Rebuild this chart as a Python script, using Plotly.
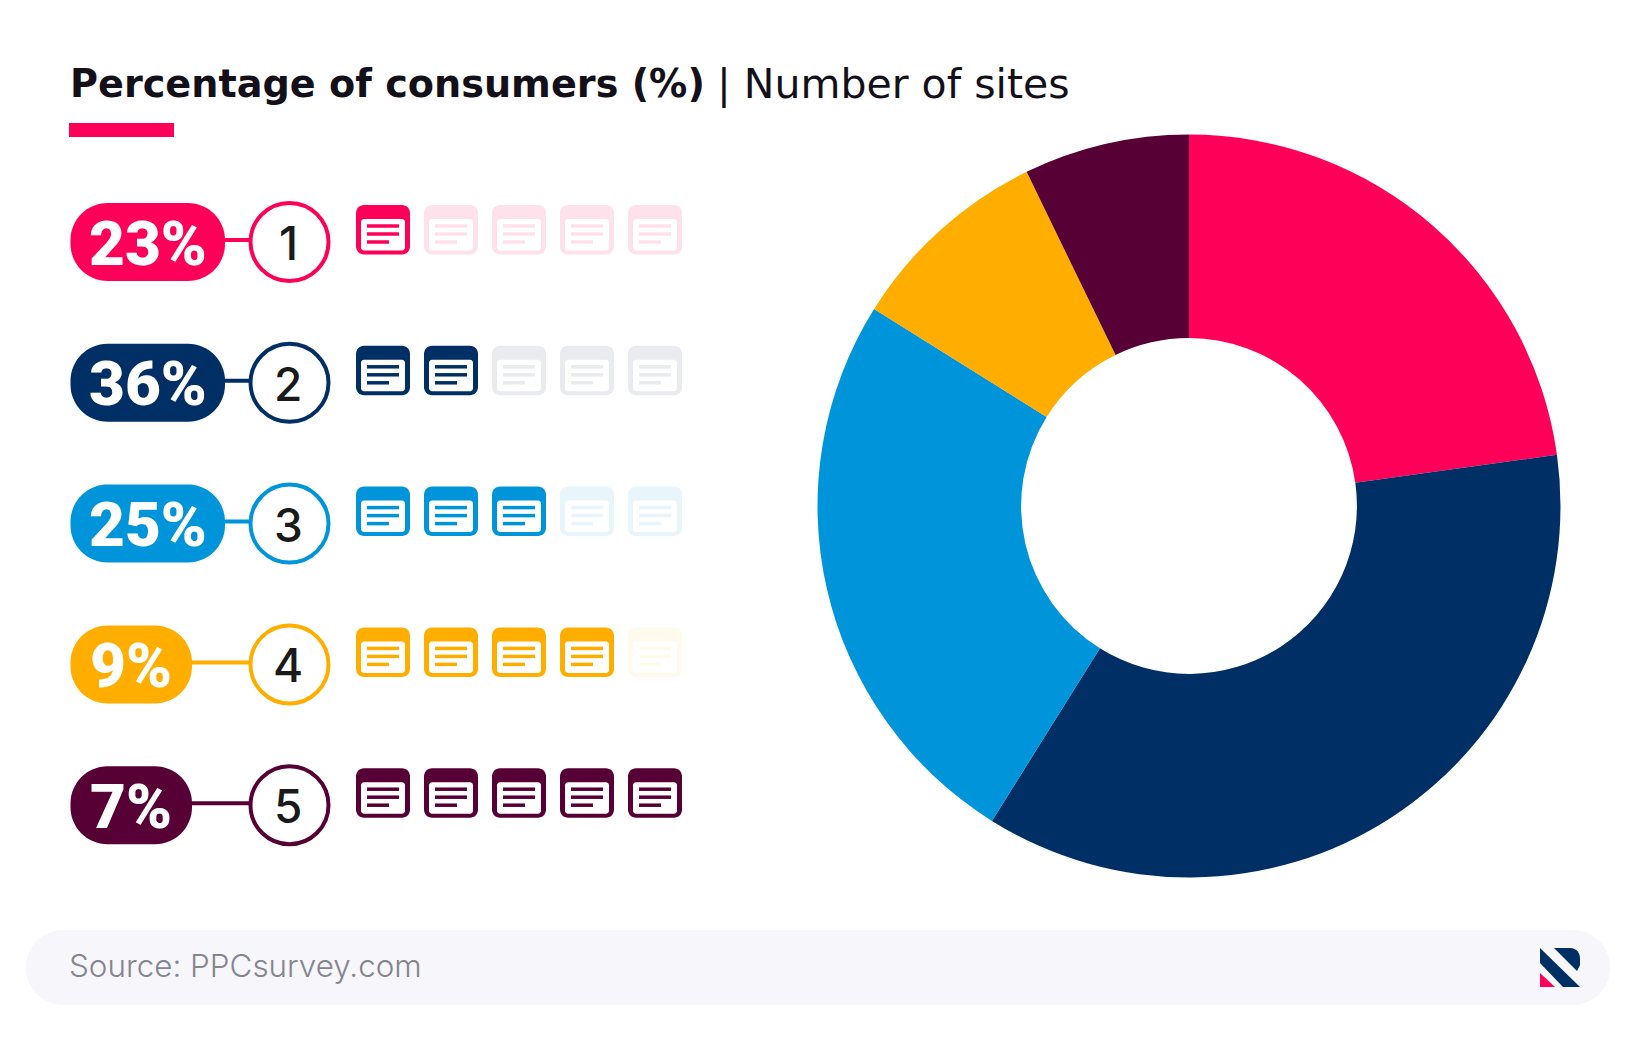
import plotly.graph_objects as go

# chart values
pct_values = [23, 36, 25, 9, 7]
pct_labels = ['23%', '36%', '25%', '9%', '7%']
slice_shares = [22.8, 36.1, 25.0, 8.9, 7.2]  # as drawn in the picture, slightly off the labels
site_counts = [1, 2, 3, 4, 5]
colors = ['#ff0059', '#002f65', '#0095da', '#ffae00', '#570036']
fade_colors = ['#ffe1eb', '#e9ebef', '#e8f5fb', '#fffaeb', '#eee6ea']
pill_right = [225, 225, 225, 192, 192]
title_bold = 'Percentage of consumers (%)'
title_rest = '| Number of sites'
source_text = 'Source: PPCsurvey.com'

W, H = 1634, 1040
ROW_TOP = 242
ROW_STEP = 140.8
KAPPA = 0.45


def rounded(x0, y0, x1, y1, r):
    k = r * KAPPA
    return (f'M{x0 + r},{y0} L{x1 - r},{y0} C{x1 - k},{y0} {x1},{y0 + k} {x1},{y0 + r} '
            f'L{x1},{y1 - r} C{x1},{y1 - k} {x1 - k},{y1} {x1 - r},{y1} '
            f'L{x0 + r},{y1} C{x0 + k},{y1} {x0},{y1 - k} {x0},{y1 - r} '
            f'L{x0},{y0 + r} C{x0},{y0 + k} {x0 + k},{y0} {x0 + r},{y0} Z')


def path_shape(path, color):
    return dict(type='path', path=path, fillcolor=color, line_width=0, xref='x', yref='y', layer='above')


def line_shape(x0, y0, x1, y1, color, width):
    return dict(type='line', x0=x0, y0=y0, x1=x1, y1=y1, line=dict(color=color, width=width),
                xref='x', yref='y', layer='above')


def icon(x, y, color):
    # x, y = top left of a 54x49.5 page icon
    return [
        path_shape(rounded(x, y, x + 54, y + 49.5, 8), color),
        path_shape(rounded(x + 5, y + 14, x + 49, y + 45.5, 3), 'white'),
        line_shape(x + 11, y + 21, x + 43, y + 21, color, 3.5),
        line_shape(x + 11, y + 29, x + 43, y + 29, color, 3.5),
        line_shape(x + 11, y + 37, x + 33, y + 37, color, 3.5),
    ]


def txt(x, y, text, size, color, anchor='left', family='Inter', weight=None):
    return dict(x=x, y=y, text=text, showarrow=False, xref='x', yref='y', xanchor=anchor, yanchor='middle',
                font=dict(family=family, size=size, color=color, weight=weight))


shapes = []
annotations = []

for i in range(len(pct_values)):
    yc = ROW_TOP + i * ROW_STEP
    c = colors[i]
    shapes.append(line_shape(pill_right[i] - 5, yc - 2, 255, yc - 2, c, 4))
    shapes.append(path_shape(rounded(70.5, yc - 39, pill_right[i], yc + 39, 37), c))
    shapes.append(dict(type='circle', x0=250.5, x1=328.5, y0=yc - 39, y1=yc + 39, fillcolor='white',
                       line=dict(color=c, width=4), xref='x', yref='y', layer='above'))
    annotations.append(txt((70.5 + pill_right[i]) / 2, yc + 1, pct_labels[i], 62, 'white', 'center',
                           family='Roboto', weight=900))
    annotations.append(txt(288, yc + 1, str(site_counts[i]), 46, '#1a1a1a', 'center', weight=500))
    for j in range(5):
        shapes += icon(356 + j * 68, yc - 37, c if j < site_counts[i] else fade_colors[i])

# underline, source strip, logo
shapes.append(path_shape('M69,123 L174,123 L174,137 L69,137 Z', colors[0]))
shapes.append(path_shape(rounded(26, 930, 1610, 1005, 37), '#f6f6fb'))
shapes.append(path_shape('M1540,948 L1580,987 L1563,987 L1540,963 Z', colors[1]))
shapes.append(path_shape('M1554,948 L1570,948 C1577,948 1580,953 1580,959 L1580,965 L1577,971 Z', colors[1]))
shapes.append(path_shape('M1540,973 L1555,987 L1540,987 Z', colors[0]))

annotations.append(txt(68, 84, f'<b>{title_bold}</b>', 38.2, '#14101a', family='DejaVu Sans', weight=700))
annotations.append(txt(715, 84, title_rest, 41, '#14101a', family='DejaVu Sans', weight=400))
annotations.append(txt(67, 966, source_text, 31.4, '#85858f', weight=300))

fig = go.Figure()
fig.add_trace(go.Pie(
    values=slice_shares,
    sort=False,
    direction='clockwise',
    rotation=0,
    hole=0.452,
    marker=dict(colors=colors, line_width=0),
    textinfo='none',
    hoverinfo='skip',
    showlegend=False,
    domain=dict(x=[(1189 - 371.5) / W, (1189 + 371.5) / W], y=[1 - (506 + 371.5) / H, 1 - (506 - 371.5) / H]),
))
fig.add_trace(go.Scatter(x=[0, W], y=[0, H], mode='markers', marker_opacity=0, hoverinfo='skip', showlegend=False))

fig.update_layout(
    width=W,
    height=H,
    margin=dict(l=0, r=0, t=0, b=0),
    paper_bgcolor='white',
    plot_bgcolor='rgba(0,0,0,0)',
    xaxis=dict(visible=False, range=[0, W], domain=[0, 1], fixedrange=True),
    yaxis=dict(visible=False, range=[H, 0], domain=[0, 1], fixedrange=True),
    shapes=shapes,
    annotations=annotations,
)

fig.write_html('out.html', config=dict(displayModeBar=False),
               post_script="document.body.style.margin='0';document.body.style.overflow='hidden';")
